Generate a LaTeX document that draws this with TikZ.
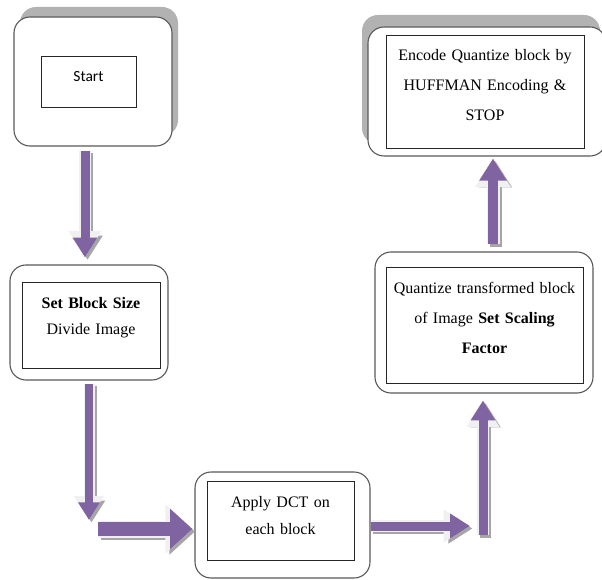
\documentclass[tikz,border=0pt]{standalone}
\usepackage{fontspec}
\setmainfont{Liberation Serif}
\newfontfamily\calibri{Carlito}
\usetikzlibrary{arrows.meta,shadows}
\definecolor{flowpurple}{RGB}{128,100,162}

\begin{document}
\begin{tikzpicture}[x=1pt, y=1pt]
    \tikzstyle{frame} = [rectangle, draw=black!65, line width=1.1pt, fill=white,
                                      rounded corners=16pt]
    \tikzstyle{stepbox} = [rectangle, draw=black!85, line width=0.8pt, fill=white,
                                      inner sep=4pt, text centered, text height=22pt,
                                      font=\fontsize{16}{30}\selectfont]
    \tikzset{flow/.style={line width=#1, draw=flowpurple,
                         -{Triangle[length=0pt 2.2, width=0pt 2.6]},
                         preaction={draw=black!35, line width=#1+2pt,
                                    transform canvas={shift={(2.5pt,-2.5pt)}}},
                         preaction={draw=black!6, line width=#1+3pt}},
             flow/.default=9pt}
  \useasboundingbox (0,0) rectangle (602,579);
  % outer frames
  \node[frame, minimum width=158pt, minimum height=129pt,
        drop shadow={shadow xshift=6pt, shadow yshift=10pt, fill=black!30, opacity=1}]
        (startf) at (93,497.5){};
  \node[frame, minimum width=158pt, minimum height=115pt](sizef) at (89,256.5){};
  \node[frame, minimum width=175pt, minimum height=106pt](dctf) at (282.5,54){};
  \node[frame, minimum width=218pt, minimum height=141pt](quantf) at (484,256.5){};
  \node[frame, minimum width=238pt, minimum height=129pt,
        drop shadow={shadow xshift=-6pt, shadow yshift=12pt, fill=black!30, opacity=1}]
        (encf) at (487,487.5){};
  % steps
  \node[stepbox, text width=87pt, text depth=21pt,
        font=\calibri\fontsize{15.5}{18}\selectfont]
        (start) at ([xshift=-4.5pt]startf.center){Start};
  \node[stepbox, text width=130pt, text depth=56pt, font=\fontsize{16}{26}\selectfont]
        (size) at ([xshift=2pt, yshift=-2.5pt]sizef.center){\textbf{Set Block Size}\\Divide Image};
  \node[stepbox, text width=139pt, text depth=49pt, font=\fontsize{16}{27}\selectfont]
        (dct) at ([xshift=-2pt, yshift=4.5pt]dctf.center){Apply DCT on\\each block};
  \node[stepbox, text width=189pt, text depth=86pt]
        (quant) at ([xshift=0.5pt, yshift=-2.5pt]quantf.center)
        {Quantize transformed block\\of Image \textbf{Set Scaling}\\\textbf{Factor}};
  \node[stepbox, text width=190pt, text depth=83pt]
        (enc) at ([xshift=-2pt]encf.center)
        {Encode Quantize block by\\HUFFMAN Encoding \&\\STOP};
  % arrows
  \coordinate (low) at (89,59);
  \coordinate (low2) at (98,50);
  \coordinate (turn) at (483,44);
  \draw[flow] ([xshift=-8pt, yshift=-4pt]startf.south) -- ([xshift=-4pt, yshift=7pt]sizef.north);
  \draw[flow=8pt] ([yshift=-3pt]sizef.south) -- (low);
  \draw[flow=14pt, -{Triangle[length=0pt 1.6, width=0pt 2.8]}] (low2) -- ([xshift=-2pt, yshift=-4pt]dctf.west);
  \draw[flow] ([yshift=-1pt]dctf.east) -- ([xshift=-13pt, yshift=9pt]turn);
  \draw[flow] (turn) -- ([yshift=-7pt]turn |- quantf.south);
  \draw[flow=10pt] ([xshift=9pt, yshift=7pt]quantf.north) -- ([xshift=9pt, yshift=-2pt]quantf.north |- encf.south);
  \end{tikzpicture}
\end{document}
